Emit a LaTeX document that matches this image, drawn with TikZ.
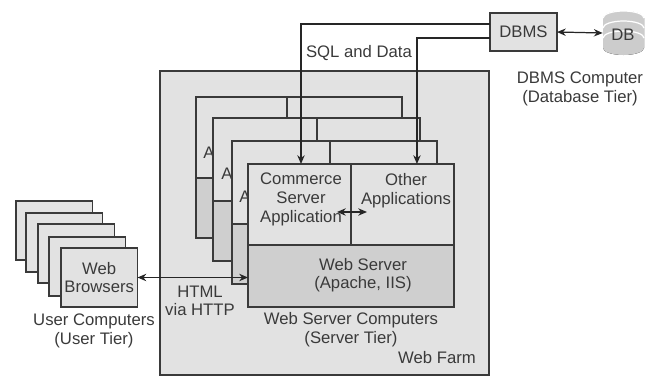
\documentclass[tikz,border=0pt]{standalone}
\usepackage{fontspec}
\setmainfont{Liberation Sans}
\usetikzlibrary{arrows.meta}
\definecolor{inkgray}{HTML}{3A3A3A}
\definecolor{farmgray}{HTML}{E2E2E2}
\definecolor{servergray}{HTML}{CFCFCF}
\tikzset{
    box/.style={draw=inkgray, line width=0.8pt, fill=farmgray, anchor=north west, inner sep=0pt, outer sep=0pt},
    lowbox/.style={box, fill=servergray},
    rule/.style={draw=inkgray, line width=0.8pt},
    label/.style={text=inkgray, font=\fontsize{9.5}{10.6}\selectfont, align=center},
    link/.style={draw=black!85, line width=0.7pt},
    tip/.style={>={Stealth[length=5pt, width=4.2pt]}},
}
\begin{document}
\begin{tikzpicture}[x=0.02cm, y=-0.02cm, tip]
    \useasboundingbox (0,0) rectangle (657,376);
    % web farm
    \node[box, minimum width=6.58cm, minimum height=6.08cm] (farm) at (160,71) {};
    % servers behind
    \foreach \nm/\lft/\tp/\wid/\hgt/\dvd/\nxt/\ax in {srvA/196/97/206/81/287/118/209, srvB/213/118/207/83/317/141/227, srvC/232/141/205/83/330/164/245} {
        \node[box, minimum width=\wid*0.02cm, minimum height=\hgt*0.02cm] (\nm) at (\lft,\tp) {};
        \node[lowbox, minimum width=\wid*0.02cm, minimum height=1.2cm] (\nm low) at (\nm.south west) {};
        \node[label] (\nm txt) at (\ax,\tp+56) {A};
        \draw[rule] (\dvd,\tp) -- (\dvd,\nxt);
    }
    % front server
    \node[box, minimum width=2.06cm, minimum height=1.62cm] (commerce) at (248,164) {};
    \node[box, minimum width=2.06cm, minimum height=1.62cm] (other) at (commerce.north east) {};
    \node[lowbox, minimum width=4.12cm, minimum height=1.24cm] (web) at (commerce.south west) {};
    \node[label] (commercetxt) at (301,199.5) {Commerce\\Server\\Application};
    \node[label] (othertxt) at (406,190.5) {Other\\Applications};
    \node[label] (webtxt) at (363,275) {Web Server\\(Apache, IIS)};
    \node[label] (webcap) at (351,329.5) {Web Server Computers\\(Server Tier)};
    \node[label] (farmcap) at (437,358) {Web Farm};
    % browsers
    \foreach \nm/\lft/\tp in {brA/16/201, brB/26/213, brC/38/224, brD/49/237, brE/61/248} {
        \node[box, minimum width=1.53cm, minimum height=1.18cm] (\nm) at (\lft,\tp) {};
    }
    \node[label] (brtxt) at (brE.center) {Web\\Browsers};
    \node[label] (usercap) at (94,331) {User Computers\\(User Tier)};
    \node[label] (httptxt) at (200,301) {HTML\\via HTTP};
    % dbms and database
    \node[box, label, minimum width=1.34cm, minimum height=0.76cm] (dbms) at (490,13) {DBMS};
    \node[inner sep=0pt, minimum width=0.82cm, minimum height=0.88cm] (db) at (623.5,33) {};
    \fill[left color=black!20, middle color=black!5, right color=black!20] (603,18) arc[start angle=180, end angle=0, x radius=20.5, y radius=-7] -- (644,48) arc[start angle=0, end angle=-180, x radius=20.5, y radius=-7] -- cycle;
    \foreach \yy in {18,28,38} {
        \draw[white, line width=0.7pt] (603,\yy) arc[start angle=180, end angle=360, x radius=20.5, y radius=7];
    }
    \node[label] (dbtxt) at (623,35) {DB};
    \node[label] (dbcap) at (580,89) {DBMS Computer\\(Database Tier)};
    \node[label] (sqltxt) at (359,53) {SQL and Data};
    % links
    \draw[link, ->] ([yshift=0.16cm]dbms.west) -| ([xshift=0.03cm]commerce.north);
    \draw[link, ->] ([yshift=-0.12cm]dbms.west) -| ([xshift=0.29cm]other.north);
    \draw[link, <->] (dbms.east) -- (db.west);
    \draw[link, <->] (brE.east) -- (brE.east -| web.west);
    \draw[link, <->] ([xshift=-0.28cm,yshift=-0.15cm]commerce.east) -- ([xshift=0.32cm,yshift=-0.15cm]other.west);
\end{tikzpicture}
\end{document}
